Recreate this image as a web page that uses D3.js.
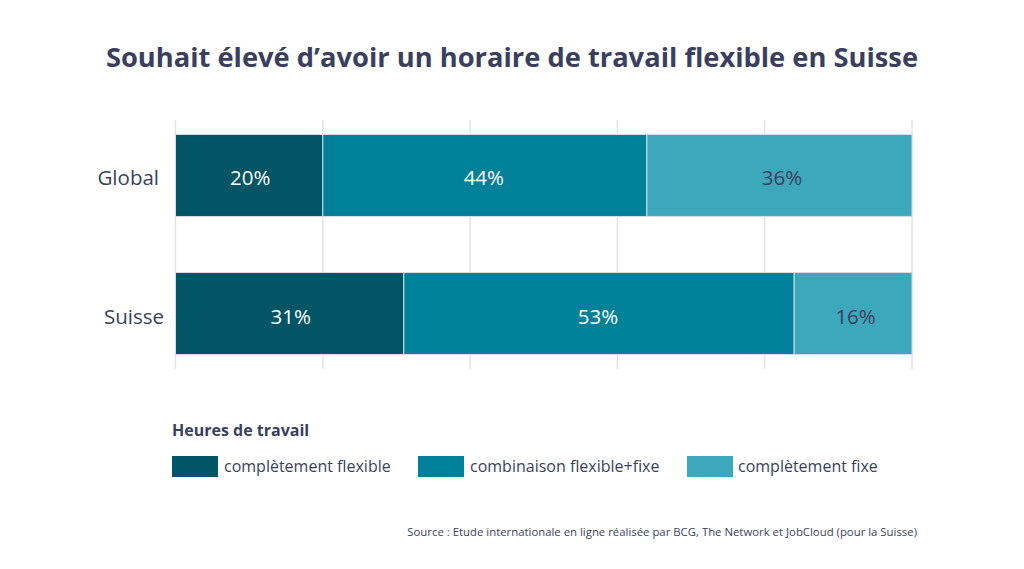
<!DOCTYPE html>
<html>
<head>
<meta charset="utf-8">
<script src="https://cdn.jsdelivr.net/npm/d3@7"></script>
<style>
  html, body { margin: 0; padding: 0; background: #fff; }
  text { font-family: "Open Sans", sans-serif; fill: #3a3f5f; }
</style>
</head>
<body>
<div id="chart"></div>
<script>
const regions = ["Global", "Suisse"];
const groups = ["complètement flexible", "combinaison flexible+fixe", "complètement fixe"];
const flexible = [20, 31];
const combined = [44, 53];
const fixed = [36, 16];
const xTicks = [0, 20, 40, 60, 80, 100];
const colors = ["#015565", "#01809a", "#3da8bc"];
const labelColors = ["#fff", "#fff", "#3a3f5f"];

const svg = d3.select("#chart").append("svg")
  .attr("width", 1024)
  .attr("height", 569)
  .style("display", "block");

svg.append("text")
  .attr("x", 512)
  .attr("y", 67)
  .attr("text-anchor", "middle")
  .attr("font-size", 27.3)
  .attr("font-weight", 700)
  .text("Souhait élevé d’avoir un horaire de travail flexible en Suisse");

const x = d3.scaleLinear().domain([0, 100]).range([175.5, 912]);
const y = d3.scaleBand().domain(regions).range([120, 369]).paddingInner(0.406).paddingOuter(0.105);

// Grid
svg.append("g")
  .selectAll("line")
  .data(xTicks)
  .enter().append("line")
  .attr("x1", d => x(d))
  .attr("x2", d => x(d))
  .attr("y1", 120)
  .attr("y2", 369)
  .attr("stroke", "#e3e3ee")
  .attr("stroke-width", 1.5);

// Stacked bars
const rows = regions.map((r, i) => ({ region: r, 0: flexible[i], 1: combined[i], 2: fixed[i] }));
const stack = d3.stack().keys([0, 1, 2])(rows);

const layers = svg.selectAll("g.layer")
  .data(stack)
  .enter().append("g")
  .attr("class", "layer");

layers.selectAll("rect")
  .data(d => d.map(v => ({ v, key: d.key })))
  .enter().append("rect")
  .attr("x", d => x(d.v[0]))
  .attr("y", d => y(d.v.data.region))
  .attr("width", d => x(d.v[1]) - x(d.v[0]))
  .attr("height", y.bandwidth())
  .attr("fill", d => colors[d.key])
  .attr("stroke", "#d5dcea")
  .attr("stroke-width", 1);

// Labels sit slightly off centre in the original
const labelShift = [1, -1, 2.5];
layers.selectAll("text")
  .data(d => d.map(v => ({ v, key: d.key })))
  .enter().append("text")
  .attr("x", d => (x(d.v[0]) + x(d.v[1])) / 2 + labelShift[d.key])
  .attr("y", d => y(d.v.data.region) + y.bandwidth() / 2 + 10)
  .attr("text-anchor", "middle")
  .attr("font-size", 20.5)
  .style("fill", d => labelColors[d.key])
  .text(d => (d.v[1] - d.v[0]) + "%");

// Category labels, the two don't share a right edge in the original
const labelEnd = { Global: 159, Suisse: 164 };
svg.append("g")
  .selectAll("text")
  .data(regions)
  .enter().append("text")
  .attr("x", d => labelEnd[d])
  .attr("y", d => y(d) + y.bandwidth() / 2 + 10)
  .attr("text-anchor", "end")
  .attr("font-size", 20.5)
  .text(d => d);

// Legend
svg.append("text")
  .attr("x", 172)
  .attr("y", 436)
  .attr("font-size", 16)
  .attr("font-weight", 700)
  .text("Heures de travail");

const legendX = [172, 418, 687];
const legendTextX = [52, 52, 51];
const legend = svg.selectAll("g.legend")
  .data(groups)
  .enter().append("g")
  .attr("class", "legend")
  .attr("transform", (d, i) => `translate(${legendX[i]},456)`);

legend.append("rect")
  .attr("width", 46)
  .attr("height", 21)
  .attr("fill", (d, i) => colors[i]);

legend.append("text")
  .attr("x", (d, i) => legendTextX[i])
  .attr("y", 16)
  .attr("font-size", 16)
  .text(d => d);

svg.append("text")
  .attr("x", 917)
  .attr("y", 536)
  .attr("text-anchor", "end")
  .attr("font-size", 11.37)
  .text("Source : Etude internationale en ligne réalisée par BCG, The Network et JobCloud (pour la Suisse)");
</script>
</body>
</html>
